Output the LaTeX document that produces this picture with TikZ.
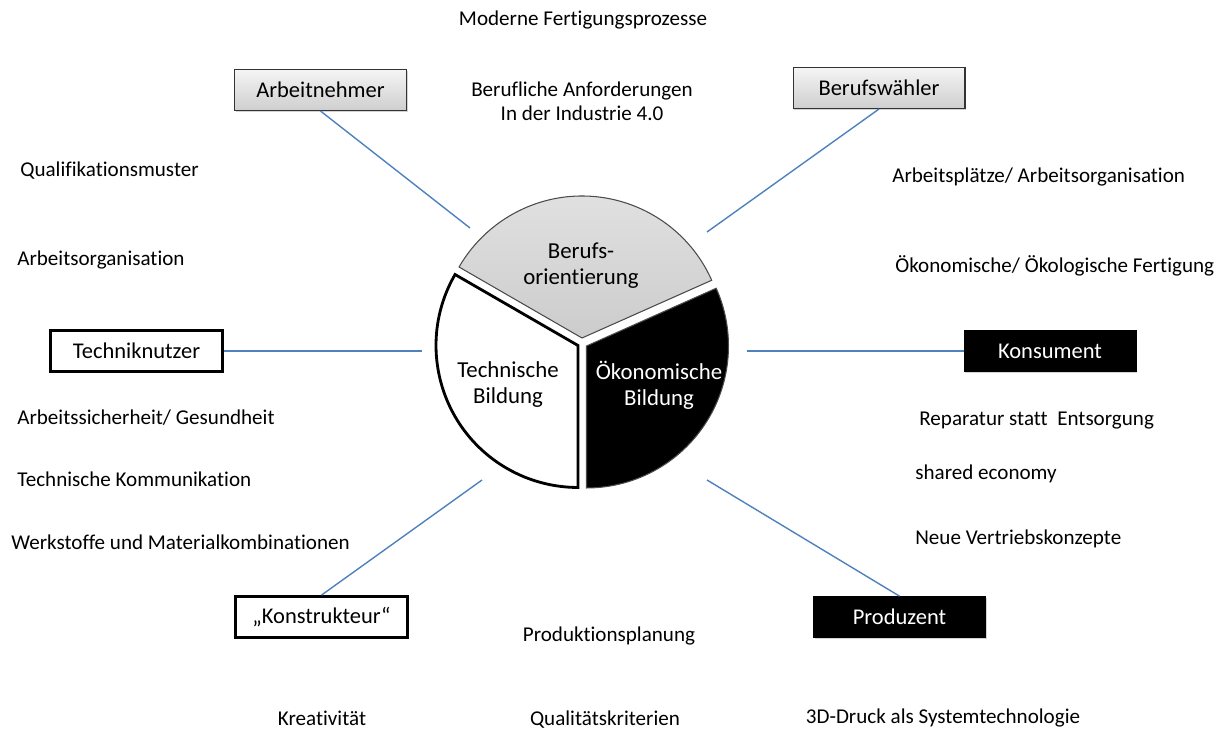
\documentclass[tikz,border=0pt]{standalone}
\usepackage{fontspec}
\setmainfont{Carlito}[Ligatures=CommonOff]
\usetikzlibrary{positioning, shadows}
\definecolor{linkblue}{RGB}{79,129,189}
\tikzstyle{link}      = [draw=linkblue, line width=0.8pt]
\tikzstyle{role}      = [rectangle, minimum width=3.44cm, minimum height=0.82cm, font=\fontsize{12.8}{14}\selectfont]
\tikzstyle{rolegrey}  = [role, draw=black!80, line width=0.6pt, top color=gray!8, bottom color=gray!38, drop shadow={opacity=0.35, shadow xshift=0.8pt, shadow yshift=-0.8pt}]
\tikzstyle{roleopen}  = [role, draw=black, line width=1.6pt, fill=white]
\tikzstyle{roledark}  = [role, draw=black, fill=black, text=white, drop shadow={opacity=0.35, shadow xshift=0.8pt, shadow yshift=-0.8pt}]
\tikzstyle{topic}     = [inner sep=0pt, font=\fontsize{12}{13.8}\selectfont]
\tikzstyle{slicetext} = [align=center, font=\fontsize{13}{14.8}\selectfont]

\begin{document}
\begin{tikzpicture}[x=0.02cm, y=-0.02cm]
\useasboundingbox (0,0) rectangle (1223,729);

% pie
\coordinate (vgrey)  at (582,338);
\coordinate (vopen)  at (578,345.5);
\coordinate (vdark)  at (586.5,346);
\filldraw [draw=black!70, line width=0.6pt, top color=gray!22, bottom color=gray!40]
  (vgrey) -- ++(24:2.84cm) arc [start angle=24, end angle=150, radius=2.84cm] -- cycle;
\filldraw [draw=black, line width=1.6pt, fill=white]
  (vopen) -- ++(150:2.84cm) arc [start angle=150, end angle=270, radius=2.84cm] -- cycle;
\filldraw [draw=black!70, line width=0.6pt, fill=black]
  (vdark) -- ++(-90:2.84cm) arc [start angle=-90, end angle=24, radius=2.84cm] -- cycle;

\node [slicetext]             (bo)  at (581,266) {Berufs-\\orientierung};
\node [slicetext]             (tb)  at (508,385) {Technische\\Bildung};
\node [slicetext, text=white] (ob)  at (659,385) {Ökonomische\\Bildung};

% roles
\node [rolegrey] (arbeit)  at (320.5,90)  {Arbeitnehmer};
\node [rolegrey] (waehler) at (879,88)    {Berufswähler};
\node [roleopen] (nutzer)  at (136.5,351) {Techniknutzer};
\node [roledark] (konsum)  at (1050,351)  {Konsument};
\node [roleopen] (konstr)  at (321.5,617) {„Konstrukteur“};
\node [roledark] (produz)  at (899.5,617) {Produzent};

% free ends at the pie
\coordinate (e1) at (470,228);
\coordinate (e2) at (707,232);
\coordinate (e3) at (422,351);
\coordinate (e4) at (747,351);
\coordinate (e5) at (482,480);
\coordinate (e6) at (707,480);

%  edges
\path [link] (arbeit.south)  -- (e1);
\path [link] (waehler.south) -- (e2);
\path [link] (nutzer.east)   -- (e3);
\path [link] (konsum.west)   -- (e4);
\path [link] (konstr.north)  -- (e5);
\path [link] (produz.north)  -- (e6);

% topics
\node [topic]               (t1)  at (583,20)  {Moderne Fertigungsprozesse};
\node [topic, align=center] (t2)  at (582,101) {Berufliche Anforderungen\\In der Industrie 4.0};
\node [topic, anchor=west]  (t3)  at (20,171)  {Qualifikationsmuster};
\node [topic, anchor=west]  (t4)  at (17,260)  {Arbeitsorganisation};
\node [topic, anchor=west]  (t5)  at (17,418)  {Arbeitssicherheit/ Gesundheit};
\node [topic, anchor=west]  (t6)  at (17,479)  {Technische Kommunikation};
\node [topic, anchor=west]  (t7)  at (11,542)  {Werkstoffe und Materialkombinationen};
\node [topic, anchor=west]  (t8)  at (892,177) {Arbeitsplätze/ Arbeitsorganisation};
\node [topic, anchor=west]  (t9)  at (895,266) {Ökonomische/ Ökologische Fertigung};
\node [topic, anchor=west]  (t10) at (919,421) {Reparatur statt~ Entsorgung};
\node [topic, anchor=west]  (t11) at (915,474) {shared economy};
\node [topic, anchor=west]  (t12) at (915,539) {Neue Vertriebskonzepte};
\node [topic]               (t13) at (609,636) {Produktionsplanung};
\node [topic]               (t14) at (322,718) {Kreativität};
\node [topic]               (t15) at (605,720) {Qualitätskriterien};
\node [topic]               (t16) at (943,718) {3D-Druck als Systemtechnologie};

\end{tikzpicture}
\end{document}
